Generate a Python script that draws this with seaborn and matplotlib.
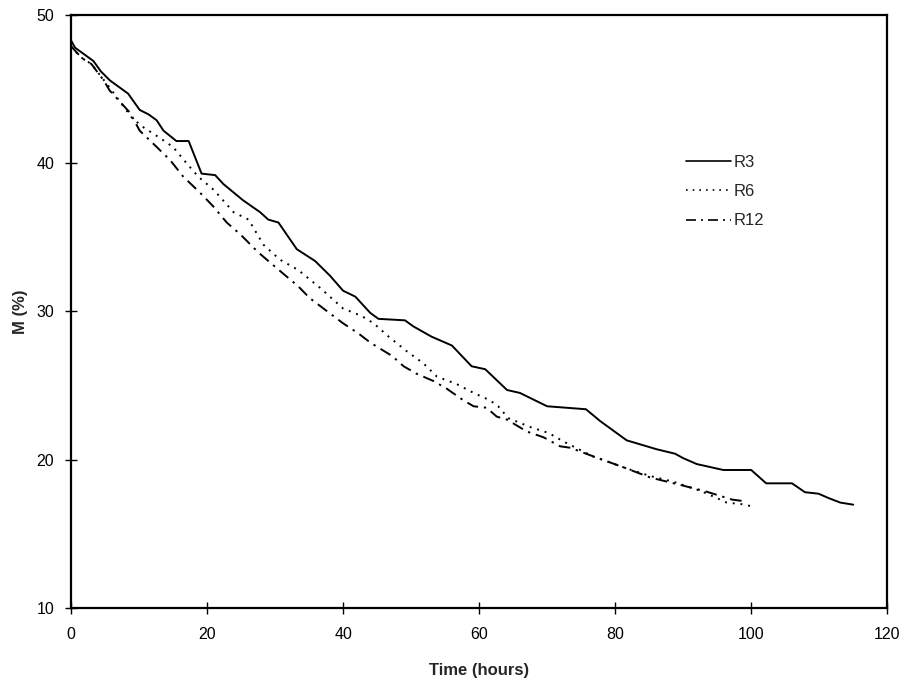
import numpy as np
import pandas as pd
import seaborn as sns
import matplotlib
matplotlib.use("Agg")
import matplotlib.pyplot as plt

# R3 (solid)
r3_time = [0, 0.6, 3.3, 4.4, 5.7, 8.4, 10.1, 11.4, 12.6, 13.6, 15.5, 17.3, 19.2, 21.2,
           22.4, 25.3, 27.8, 29.0, 30.5, 33.2, 35.9, 38.1, 40.0, 41.8, 44.0, 45.2, 49.1,
           50.3, 53.0, 56.0, 58.9, 60.9, 64.1, 66.0, 70.0, 75.7, 77.8, 81.7, 86.1, 88.8,
           90.0, 92.0, 95.9, 100.0, 102.2, 106.0, 107.9, 109.9, 111.4, 113.1, 115.0]
r3_m = [48.3, 47.8, 46.9, 46.2, 45.6, 44.7, 43.6, 43.3, 42.9, 42.2, 41.5, 41.5, 39.3, 39.2,
        38.6, 37.5, 36.7, 36.2, 36.0, 34.2, 33.4, 32.4, 31.4, 31.0, 29.9, 29.5, 29.4,
        29.0, 28.3, 27.7, 26.3, 26.1, 24.7, 24.5, 23.6, 23.4, 22.6, 21.3, 20.7, 20.4,
        20.1, 19.7, 19.3, 19.3, 18.4, 18.4, 17.8, 17.7, 17.4, 17.1, 16.96]

# R6 (dotted)
r6_time = [0, 1.3, 3.0, 5.7, 8.9, 10.4, 13.1, 15.0, 17.0, 18.7, 21.0, 23.9, 26.1, 28.3,
           30.7, 33.4, 36.6, 40.0, 42.7, 44.5, 46.7, 49.4, 51.8, 53.8, 56.7, 59.2, 61.6,
           62.8, 64.3, 67.5, 70.2, 72.5, 76.8, 79.3, 81.7, 85.1, 88.6, 92.5, 94.5, 96.4,
           98.5, 100.1]
r6_m = [47.9, 47.2, 46.7, 45.1, 43.1, 42.5, 41.7, 41.1, 40.0, 39.1, 38.2, 36.7, 36.2, 34.5,
        33.5, 32.8, 31.6, 30.2, 29.7, 29.2, 28.3, 27.3, 26.5, 25.6, 25.1, 24.5, 24.0,
        23.6, 22.8, 22.2, 21.8, 21.2, 20.2, 19.8, 19.4, 18.9, 18.5, 17.9, 17.5, 17.1,
        17.0, 16.85]

# R12 (dash-dot)
r12_time = [0, 1.6, 3.0, 4.8, 5.7, 8.7, 10.1, 12.6, 14.6, 16.5, 19.0, 20.9, 22.9, 24.9,
            27.5, 30.3, 33.4, 35.1, 37.4, 40.0, 42.3, 44.0, 45.4, 47.2, 48.9, 50.8, 53.3,
            55.2, 57.7, 59.2, 61.1, 62.6, 64.1, 67.0, 69.5, 71.9, 73.4, 76.3, 79.3, 81.7,
            85.1, 88.6, 93.0, 97.2, 98.9]
r12_m = [47.9, 47.1, 46.7, 45.6, 44.9, 43.4, 42.2, 41.1, 40.2, 39.1, 38.0, 37.1, 36.0, 35.2,
         34.0, 32.9, 31.7, 30.9, 30.1, 29.2, 28.5, 27.9, 27.5, 27.0, 26.3, 25.8, 25.3,
         24.8, 24.0, 23.6, 23.5, 22.9, 22.7, 21.9, 21.5, 20.9, 20.8, 20.3, 19.8, 19.4,
         18.8, 18.4, 17.9, 17.3, 17.2]

series_names = ["R3", "R6", "R12"]
x_ticks = [0, 20, 40, 60, 80, 100, 120]
y_ticks = [10, 20, 30, 40, 50]

df = pd.concat([
    pd.DataFrame({"time": r3_time, "M": r3_m, "run": "R3"}),
    pd.DataFrame({"time": r6_time, "M": r6_m, "run": "R6"}),
    pd.DataFrame({"time": r12_time, "M": r12_m, "run": "R12"}),
], ignore_index=True)

sns.set_style("ticks")
plt.rcParams["font.family"] = ["Liberation Sans", "DejaVu Sans"]

fig = plt.figure(figsize=(9.1, 6.86), dpi=100)
ax = fig.add_axes([0.078, 0.114, 0.897, 0.864])

sns.lineplot(
    data=df, x="time", y="M", style="run", style_order=series_names,
    dashes={"R3": "", "R6": (1, 3), "R12": (6, 3, 1.2, 3)},
    color="black", linewidth=1.4, estimator=None, sort=False, ax=ax,
)

ax.set_xlim(0, 120)
ax.set_ylim(10, 50)
ax.set_xticks(x_ticks)
ax.set_yticks(y_ticks)
ax.tick_params(direction="inout", length=8, width=1, colors="black",
               labelsize=11.5, pad=10)
ax.tick_params(axis="y", pad=8)
for s in ax.spines.values():
    s.set_visible(True)
    s.set_linewidth(1.6)
    s.set_color("black")

ax.set_xlabel("Time (hours)", fontsize=12, fontweight="bold", labelpad=15)
ax.set_ylabel("M (%)", fontsize=12, fontweight="bold", labelpad=6)

leg = ax.legend(loc="upper left", bbox_to_anchor=(0.745, 0.775), frameon=False,
                fontsize=12, handlelength=2.7, handletextpad=0.15,
                labelspacing=0.85, borderaxespad=0)
for line in leg.get_lines():
    line.set_linewidth(1.2)

fig.savefig("out.png", dpi=100)
